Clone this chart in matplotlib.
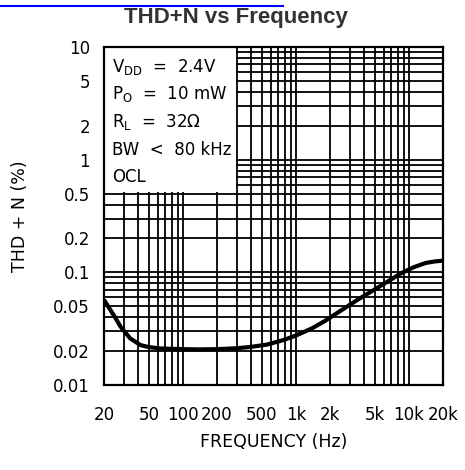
import matplotlib
matplotlib.use("Agg")
import matplotlib.pyplot as plt
from matplotlib.lines import Line2D
from matplotlib.patches import Rectangle
from matplotlib.ticker import FixedLocator, NullFormatter

# ---- data ----
freq_hz = [20, 22, 25, 28, 34, 42, 50, 63, 100, 140, 200, 300, 400, 550, 770,
           1000, 1400, 1800, 2600, 3500, 4800, 6500, 8500, 11000, 14000, 17000, 20000]
thd_pct = [0.057, 0.049, 0.040, 0.033, 0.026, 0.0226, 0.0217, 0.0211, 0.0208, 0.0207,
           0.0208, 0.0212, 0.0218, 0.0228, 0.025, 0.0275, 0.032, 0.037, 0.047, 0.057,
           0.069, 0.083, 0.098, 0.111, 0.121, 0.125, 0.127]

x_ticks = [20, 50, 100, 200, 500, 1000, 2000, 5000, 10000, 20000]
x_tick_labels = ["20", "50", "100", "200", "500", "1k", "2k", "5k", "10k", "20k"]
y_ticks = [0.01, 0.02, 0.05, 0.1, 0.2, 0.5, 1, 2, 5, 10]
y_tick_labels = ["0.01", "0.02", "0.05", "0.1", "0.2", "0.5", "1", "2", "5", "10"]

x_grid = [20, 30, 40, 50, 60, 70, 80, 90, 100, 200, 300, 400, 500, 600, 700, 800, 900,
          1000, 2000, 3000, 4000, 5000, 6000, 7000, 8000, 9000, 10000, 20000]
y_grid = [m * d for d in (0.01, 0.1, 1) for m in range(1, 10)] + [10]

cond_lines = [r"V$_\mathrm{DD}$  =  2.4V", r"P$_\mathrm{O}$  =  10 mW",
              r"R$_\mathrm{L}$  =  32$\Omega$", "BW  <  80 kHz", "OCL"]

# ---- figure ----
W, H = 465, 470
fig = plt.figure(figsize=(W / 100, H / 100), dpi=100)
L, R, T, B = 104, 443, 47, 385
ax = fig.add_axes([L / W, 1 - B / H, (R - L) / W, (B - T) / H])

ax.set_xscale("log")
ax.set_yscale("log")
ax.set_xlim(20, 20000)
ax.set_ylim(0.01, 10)

ax.xaxis.set_major_locator(FixedLocator(x_ticks))
ax.xaxis.set_minor_locator(FixedLocator(x_grid))
ax.yaxis.set_major_locator(FixedLocator(y_ticks))
ax.yaxis.set_minor_locator(FixedLocator(y_grid))
ax.set_xticklabels(x_tick_labels)
ax.set_yticklabels(y_tick_labels)
ax.xaxis.set_minor_formatter(NullFormatter())
ax.yaxis.set_minor_formatter(NullFormatter())

ax.tick_params(which="both", length=0)
ax.tick_params(axis="x", pad=15, labelsize=12)
ax.tick_params(axis="y", pad=10, labelsize=12)

ax.set_axisbelow(True)
ax.grid(which="both", color="black", linewidth=1.3)
for s in ax.spines.values():
    s.set_linewidth(1.6)
    s.set_color("black")

# white conditions box covering grid
ax.add_patch(Rectangle((20, 0.52), 276, 9.48, facecolor="white", edgecolor="none", zorder=1))
baselines = [72, 99, 127, 155, 182]
for txt, bl in zip(cond_lines, baselines):
    ax.text((112 - L) / (R - L), (B - bl) / (B - T), txt, transform=ax.transAxes,
            fontsize=12, va="baseline", ha="left", zorder=4)

ax.plot(freq_hz, thd_pct, color="black", linewidth=3, solid_capstyle="butt",
        solid_joinstyle="round", zorder=3, clip_on=True)

ax.set_xlabel("FREQUENCY (Hz)", fontsize=12.5)
ax.set_ylabel("THD + N (%)", fontsize=12.5)
ax.xaxis.set_label_coords(0.5, (B - 442) / (B - T), transform=ax.transAxes)
ax.yaxis.set_label_coords((20 - L) / (R - L), 0.5, transform=ax.transAxes)
ax.xaxis.label.set_va("center")
ax.yaxis.label.set_va("center")

fig.text(235.5 / W, 1 - 22.7 / H, "THD+N vs Frequency", fontsize=16, fontweight="bold",
         family=["Liberation Sans", "DejaVu Sans"], color="#333333",
         ha="center", va="baseline")
fig.add_artist(Line2D([0, 283 / W], [1 - 6 / H, 1 - 6 / H], color="#0000ff",
                      linewidth=1.5, transform=fig.transFigure))

fig.savefig("out.png", dpi=100)
